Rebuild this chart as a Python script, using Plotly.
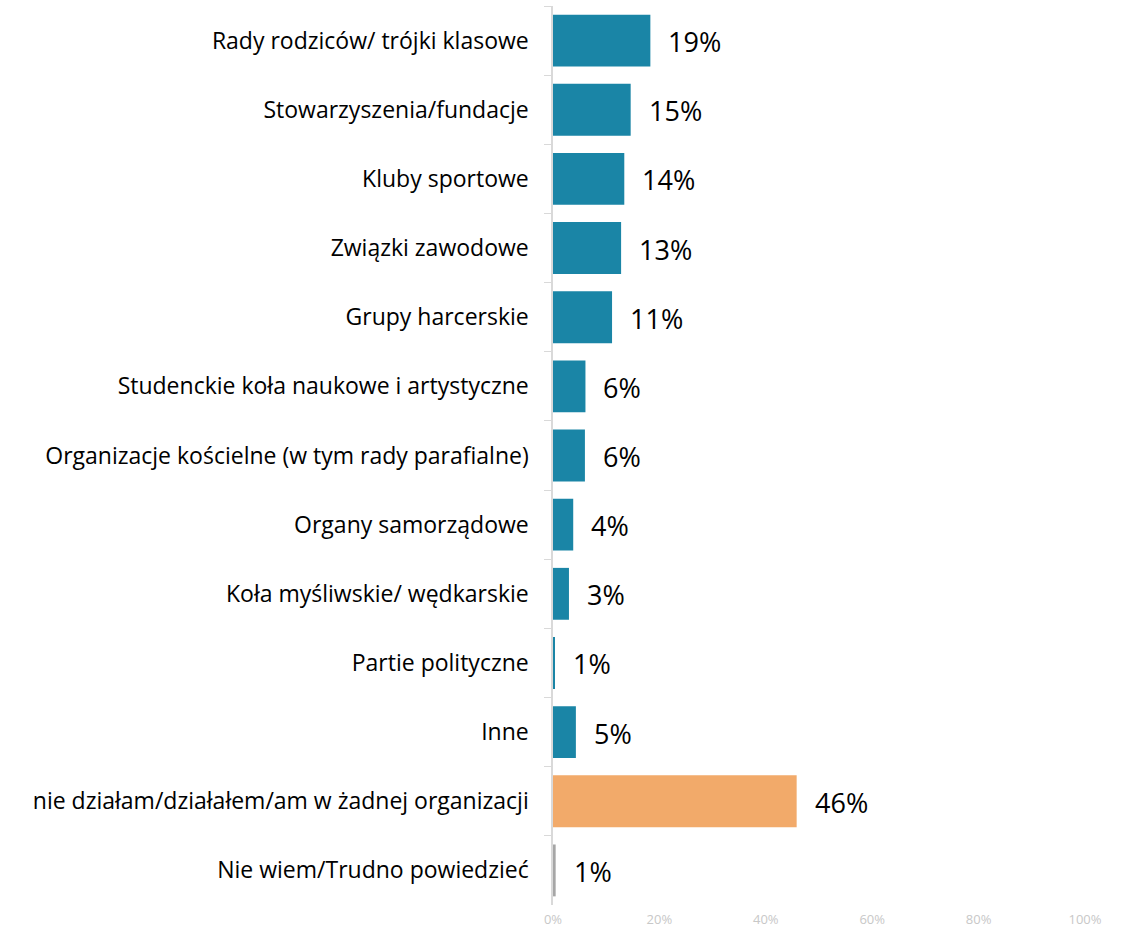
import plotly.graph_objects as go

categories = [
    "Rady rodziców/ trójki klasowe",
    "Stowarzyszenia/fundacje",
    "Kluby sportowe",
    "Związki zawodowe",
    "Grupy harcerskie",
    "Studenckie koła naukowe i artystyczne",
    "Organizacje kościelne (w tym rady parafialne)",
    "Organy samorządowe",
    "Koła myśliwskie/ wędkarskie",
    "Partie polityczne",
    "Inne",
    "nie działam/działałem/am w żadnej organizacji",
    "Nie wiem/Trudno powiedzieć",
]
values = [18.3, 14.6, 13.4, 12.8, 11.1, 6.1, 6.0, 3.8, 3.0, 0.3, 4.3, 45.8, 0.5]
value_labels = ["19%", "15%", "14%", "13%", "11%", "6%", "6%", "4%", "3%", "1%", "5%", "46%", "1%"]
colors = ["#1a85a6"] * 11 + ["#f2aa6a", "#a6a6a6"]

FONT = "Open Sans, Lato, sans-serif"

fig = go.Figure()
fig.add_trace(go.Bar(
    y=categories, x=values, orientation="h",
    marker=dict(color=colors, line=dict(width=0)),
    width=0.75, hoverinfo="skip",
))
for c, v, t in zip(categories, values, value_labels):
    fig.add_annotation(x=v, y=c, text=t, showarrow=False, xanchor="left",
                       xshift=16, yshift=-1, font=dict(size=27, color="#000000", family=FONT))

fig.update_layout(
    width=1122, height=931,
    margin=dict(l=553, r=37, t=6, b=26),
    paper_bgcolor="white", plot_bgcolor="white",
    showlegend=False,
    font=dict(family=FONT),
    xaxis=dict(range=[0, 100], tickvals=[0, 20, 40, 60, 80, 100],
               ticktext=["0%", "20%", "40%", "60%", "80%", "100%"],
               showgrid=False, zeroline=False, showline=False,
               tickfont=dict(size=13, color="#c8c8c8"), ticks="",
               ticklabelstandoff=5, automargin=False),
    yaxis=dict(autorange="reversed", showgrid=False, zeroline=False,
               showline=True, linecolor="#d9d9d9", linewidth=1.5,
               ticks="outside", ticklen=7, tickcolor="#d9d9d9", tickson="boundaries",
               ticksuffix="   ", automargin=False,
               tickfont=dict(size=23, color="#000000")),
)
fig.write_html("out.html", config={"displayModeBar": False},
               post_script="document.body.style.margin='0';")
